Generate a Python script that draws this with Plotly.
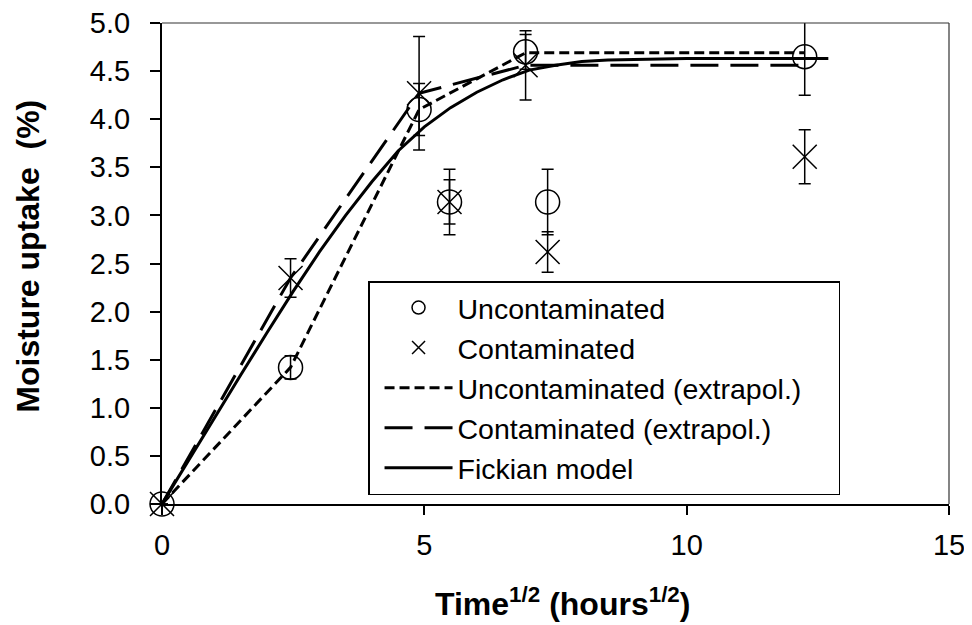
import plotly.graph_objects as go

# ---- data ----
time_sqrt = [0.0, 2.45, 4.90, 5.48, 6.93, 7.35, 12.25]

uncont_y = [0.00, 1.42, 4.10, 3.14, 4.70, 3.14, 4.65]
uncont_err = [0.00, 0.12, 0.27, 0.34, 0.18, 0.34, 0.40]

cont_y = [0.00, 2.35, 4.27, 3.14, 4.56, 2.62, 3.61]
cont_err = [0.00, 0.20, 0.59, 0.23, 0.36, 0.21, 0.28]

extra_x = [0.0, 2.45, 4.90, 6.93, 12.25]
uncont_extra_y = [0.00, 1.42, 4.10, 4.69, 4.69]
cont_extra_y = [0.00, 2.35, 4.27, 4.56, 4.56]

fick_x = [0.0, 0.5, 1.0, 1.5, 2.0, 2.5, 3.0, 3.5, 4.0, 4.5, 5.0, 5.5, 6.0,
          6.5, 7.0, 7.5, 8.0, 8.5, 9.0, 10.0, 11.0, 12.0, 12.7]
fick_y = [0.00, 0.45, 0.90, 1.34, 1.78, 2.21, 2.62, 3.00, 3.35, 3.67, 3.92,
          4.12, 4.28, 4.41, 4.51, 4.56, 4.60, 4.615, 4.62, 4.63, 4.63, 4.63, 4.63]

x_ticks = [0, 5, 10, 15]
y_ticks = [0.0, 0.5, 1.0, 1.5, 2.0, 2.5, 3.0, 3.5, 4.0, 4.5, 5.0]

legend_names = ["Uncontaminated", "Contaminated",
                "Uncontaminated (extrapol.)", "Contaminated (extrapol.)",
                "Fickian model"]

FONT = "Liberation Sans, Arial, sans-serif"

fig = go.Figure()

# lines
fig.add_trace(go.Scatter(
    x=extra_x, y=uncont_extra_y, mode="lines", showlegend=False,
    line=dict(color="black", width=3, dash="10px,5px")))
fig.add_trace(go.Scatter(
    x=extra_x, y=cont_extra_y, mode="lines", showlegend=False,
    line=dict(color="black", width=3, dash="28px,12px")))
fig.add_trace(go.Scatter(
    x=fick_x, y=fick_y, mode="lines", showlegend=False,
    line=dict(color="black", width=3)))

# markers with error bars
fig.add_trace(go.Scatter(
    x=time_sqrt, y=uncont_y, mode="markers", showlegend=False, cliponaxis=False,
    marker=dict(symbol="circle-open", size=24, color="black",
                line=dict(color="black", width=1.5)),
    error_y=dict(type="data", array=uncont_err, color="black",
                 thickness=1.5, width=6)))
fig.add_trace(go.Scatter(
    x=time_sqrt, y=cont_y, mode="markers", showlegend=False, cliponaxis=False,
    marker=dict(symbol="x-thin-open", size=24, color="black",
                line=dict(color="black", width=1.5)),
    error_y=dict(type="data", array=cont_err, color="black",
                 thickness=1.5, width=6)))

# legend entries (small symbols, as in the reference legend)
fig.add_trace(go.Scatter(
    x=[None], y=[None], mode="markers", name=legend_names[0],
    marker=dict(symbol="circle-open", size=13, color="black",
                line=dict(color="black", width=1.5))))
fig.add_trace(go.Scatter(
    x=[None], y=[None], mode="markers", name=legend_names[1],
    marker=dict(symbol="x-thin-open", size=13, color="black",
                line=dict(color="black", width=1.5))))
fig.add_trace(go.Scatter(
    x=[None], y=[None], mode="lines",
    name=legend_names[2] + "&nbsp;&nbsp;&nbsp;&nbsp;",
    line=dict(color="black", width=3, dash="10px,5px")))
fig.add_trace(go.Scatter(
    x=[None], y=[None], mode="lines", name=legend_names[3],
    line=dict(color="black", width=3, dash="28px,12px")))
fig.add_trace(go.Scatter(
    x=[None], y=[None], mode="lines", name=legend_names[4],
    line=dict(color="black", width=3)))

# page body has an 8px margin, so the figure is 8px smaller and margins shifted
fig.update_layout(
    width=964, height=617,
    margin=dict(l=154, r=23, t=15, b=121, autoexpand=False),
    paper_bgcolor="white", plot_bgcolor="white",
    font=dict(family=FONT, size=29, color="black"),
    legend=dict(x=0.2618, y=0.4636, xanchor="left", yanchor="top",
                bgcolor="white", bordercolor="black", borderwidth=1.5,
                font=dict(family=FONT, size=28.5, color="black"),
                itemwidth=68, indentation=10, tracegroupgap=0),
    xaxis=dict(range=[0, 15], tickmode="array", tickvals=x_ticks,
               ticktext=[str(v) for v in x_ticks], automargin=False,
               showgrid=False, zeroline=False, showline=True,
               linecolor="black", linewidth=2,
               ticks="outside", ticklen=9, tickwidth=1.5, tickcolor="black",
               ticklabelstandoff=5, ticklabeloverflow="allow",
               tickfont=dict(family=FONT, size=29, color="black")),
    yaxis=dict(range=[0, 5], tickmode="array", tickvals=y_ticks,
               ticktext=[f"{v:.1f}" for v in y_ticks], automargin=False,
               showgrid=False, zeroline=False, showline=True,
               linecolor="black", linewidth=2,
               ticks="outside", ticklen=10, tickwidth=1.5, tickcolor="black",
               ticklabelstandoff=14, ticklabeloverflow="allow",
               tickfont=dict(family=FONT, size=29, color="black")),
    shapes=[
        dict(type="line", xref="paper", yref="paper", x0=0, x1=1, y0=1, y1=1,
             line=dict(color="#333333", width=1.2)),
        dict(type="line", xref="paper", yref="paper", x0=1, x1=1, y0=0, y1=1,
             line=dict(color="#333333", width=1.2)),
    ],
    annotations=[
        dict(text="<b>Moisture uptake&nbsp; (%)</b>", textangle=-90,
             xref="paper", yref="paper", x=-0.170, y=0.5146,
             xanchor="center", yanchor="middle", showarrow=False,
             font=dict(family=FONT, size=32, color="black")),
        dict(text="<b>Time<sup>1/2</sup> (hours<sup>1/2</sup>)</b>",
             xref="paper", yref="paper", x=0.5095, y=-0.2037,
             xanchor="center", yanchor="middle", showarrow=False,
             font=dict(family=FONT, size=32, color="black")),
    ],
)

fig.write_html("out.html")
